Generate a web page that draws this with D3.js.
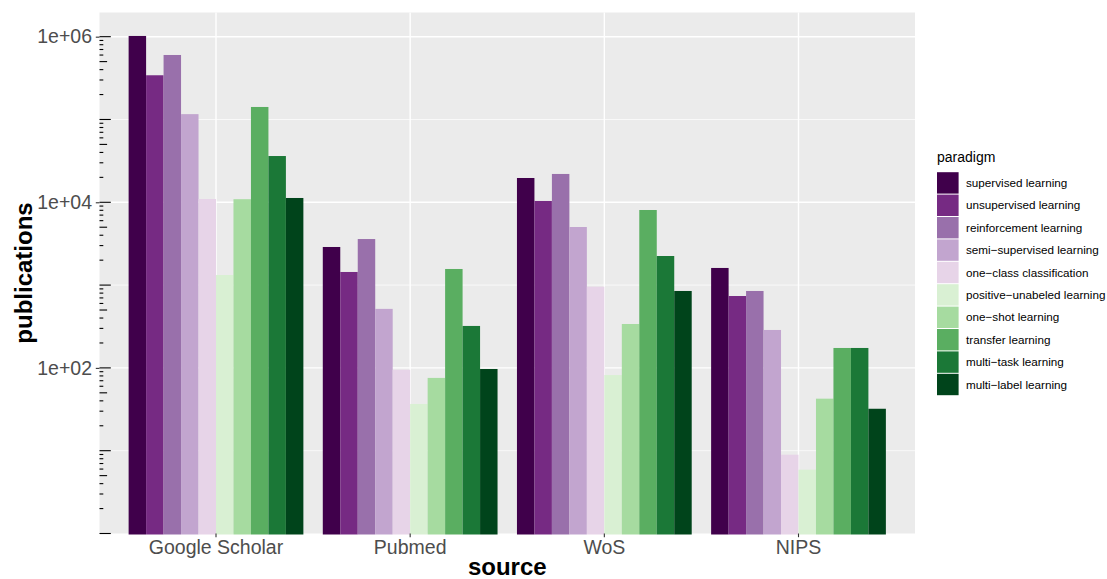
<!DOCTYPE html>
<html>
<head>
<meta charset="utf-8">
<script src="https://cdn.jsdelivr.net/npm/d3@7"></script>
<style>
  body { margin: 0; background: #fff; }
  svg { display: block; font-family: "Liberation Sans", Arial, Helvetica, sans-serif; }
</style>
</head>
<body>
<svg id="chart" width="1107" height="579"></svg>
<script>
const sources = ['Google Scholar', 'Pubmed', 'WoS', 'NIPS'];
const paradigms = [
    'supervised learning', 'unsupervised learning', 'reinforcement learning',
    'semi−supervised learning', 'one−class classification', 'positive−unabeled learning',
    'one−shot learning', 'transfer learning', 'multi−task learning', 'multi−label learning',
];
const colors = ['#40004b', '#762a83', '#9970ab', '#c2a5cf', '#e7d4e8', '#d9f0d3', '#a6dba0', '#5aae61', '#1b7837', '#00441b'];

// publications per paradigm (same order as paradigms)
const googleScholar = [1020000, 342000, 601000, 116000, 10960, 1324, 10900, 141600, 36200, 11270];
const pubmed = [2885, 1440, 3600, 516, 95, 36.7, 75.7, 1565, 321, 97];
const wos = [19650, 10370, 21980, 5030, 957, 82, 339, 8070, 2245, 849];
const nips = [1610, 738, 849, 287, 8.95, 5.9, 42.5, 174, 174, 32.1];

const yLabelTicks = [1e2, 1e4, 1e6];
const yTickLabels = ['1e+02', '1e+04', '1e+06'];
const yMinorGrid = [1e1, 1e3, 1e5];

const panel = { left: 99.5, right: 915, top: 12.5, bottom: 533.5 };
const svg = d3.select('#chart');

// scales
const x0 = d3.scaleBand().domain(sources).range([panel.left, panel.right]).paddingInner(0.1).paddingOuter(0.15);
const x1 = d3.scaleBand().domain(paradigms).range([0, x0.bandwidth()]);
const y = d3.scaleLog().domain([1, Math.pow(10, 6.292)]).range([panel.bottom, panel.top]);
const color = d3.scaleOrdinal().domain(paradigms).range(colors);
const center = (s) => x0(s) + x0.bandwidth() / 2;

// panel background + grid
svg.append('rect')
    .attr('x', panel.left).attr('y', panel.top)
    .attr('width', panel.right - panel.left).attr('height', panel.bottom - panel.top)
    .attr('fill', '#ebebeb');

const grid = svg.append('g').attr('stroke', '#fff');
grid.selectAll('.minor').data(yMinorGrid).join('line')
    .attr('x1', panel.left).attr('x2', panel.right)
    .attr('y1', (d) => y(d)).attr('y2', (d) => y(d))
    .attr('stroke-width', 0.7);
grid.selectAll('.major').data(yLabelTicks).join('line')
    .attr('x1', panel.left).attr('x2', panel.right)
    .attr('y1', (d) => y(d)).attr('y2', (d) => y(d))
    .attr('stroke-width', 1.4);
grid.selectAll('.vert').data(sources).join('line')
    .attr('x1', center).attr('x2', center)
    .attr('y1', panel.top).attr('y2', panel.bottom)
    .attr('stroke-width', 1.4);

// bars
const table = sources.map((s, i) => ({ source: s, values: [googleScholar, pubmed, wos, nips][i] }));
svg.append('g').selectAll('g')
    .data(table)
    .join('g')
    .attr('transform', (d) => `translate(${x0(d.source)},0)`)
    .selectAll('rect')
    .data((d) => paradigms.map((p, i) => ({ key: p, value: d.values[i] })))
    .join('rect')
    .attr('x', (d) => x1(d.key))
    .attr('y', (d) => y(d.value))
    .attr('width', x1.bandwidth())
    .attr('height', (d) => y(1) - y(d.value) + 1)
    .attr('fill', (d) => color(d.key));

// log ticks inside the panel (like annotation_logticks)
const logTicks = [];
for (let k = 0; k <= 6; k++) {
    for (let m = 1; m <= 9; m++) {
        const v = m * Math.pow(10, k);
        if (v <= y.domain()[1]) logTicks.push({ v: v, len: m === 1 ? 11.3 : m === 5 ? 7.6 : 3.8 });
    }
}
svg.append('g').selectAll('line').data(logTicks).join('line')
    .attr('x1', panel.left).attr('x2', (d) => panel.left + d.len)
    .attr('y1', (d) => y(d.v)).attr('y2', (d) => y(d.v))
    .attr('stroke', '#000').attr('stroke-width', 1.1);

// axes
const yAxis = svg.append('g')
    .attr('transform', `translate(${panel.left},0)`)
    .call(d3.axisLeft(y).tickValues(yLabelTicks).tickFormat((d, i) => yTickLabels[i]).tickSize(3.7).tickPadding(3.8));
const xAxis = svg.append('g')
    .attr('transform', `translate(0,${panel.bottom})`)
    .call(d3.axisBottom(x0).tickSize(3.7).tickPadding(2.5));
[xAxis, yAxis].forEach((a) => {
    a.select('.domain').remove();
    a.selectAll('.tick line').attr('stroke', '#333').attr('stroke-width', 1.1);
    a.selectAll('.tick text').attr('fill', '#4d4d4d').attr('font-size', '19.5px').attr('font-family', null);
});

// axis titles
svg.append('text')
    .attr('x', (panel.left + panel.right) / 2).attr('y', 574.5)
    .attr('text-anchor', 'middle').attr('font-size', '24px').attr('font-weight', 'bold')
    .text('source');
svg.append('text')
    .attr('transform', `translate(31.7,${(panel.top + panel.bottom) / 2}) rotate(-90)`)
    .attr('text-anchor', 'middle').attr('font-size', '24px').attr('font-weight', 'bold')
    .text('publications');

// legend
const legend = svg.append('g').attr('transform', 'translate(937,171.7)');
legend.append('text').attr('x', 0).attr('y', -10).attr('font-size', '14px').text('paradigm');
const items = legend.selectAll('g.item').data(paradigms).join('g')
    .attr('transform', (d, i) => `translate(0,${i * 22.4})`);
items.append('rect')
    .attr('x', 0).attr('y', 0.5).attr('width', 21.6).attr('height', 21.4)
    .attr('fill', (d) => color(d));
items.append('text')
    .attr('x', 29).attr('y', 11.2).attr('dy', '0.35em')
    .attr('font-size', '11.7px')
    .text((d) => d);
</script>
</body>
</html>
